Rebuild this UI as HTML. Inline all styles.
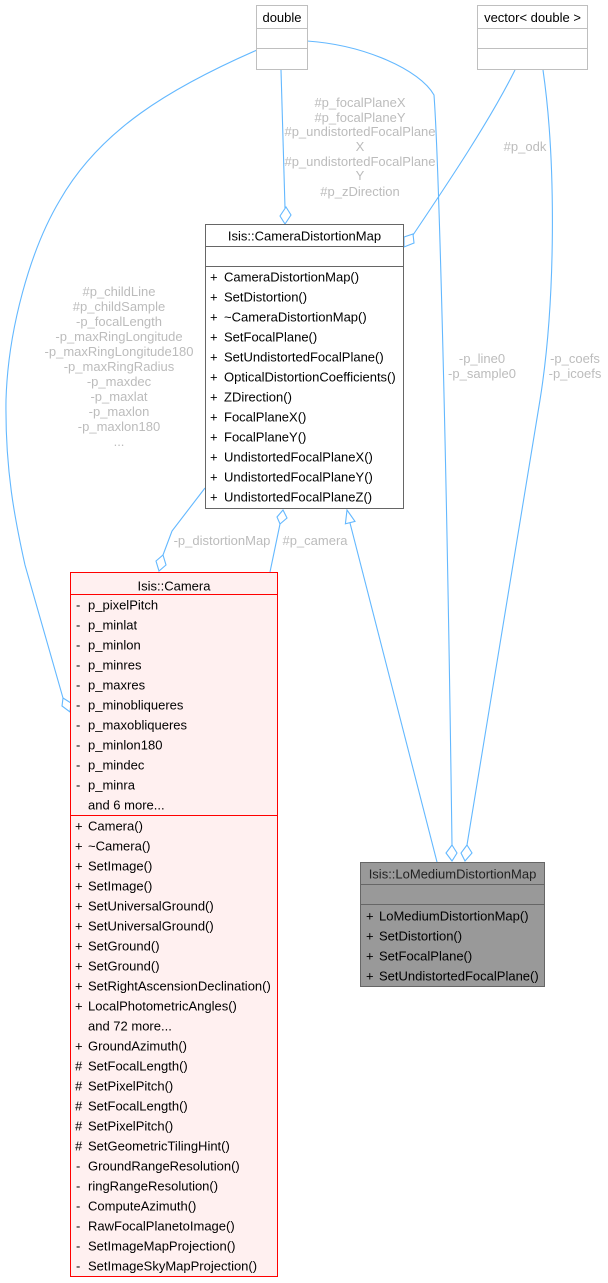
<!DOCTYPE html>
<html><head><meta charset="utf-8"><style>
html,body{margin:0;padding:0;background:#fff;}
svg{display:block;}
text{font-family:"Liberation Sans",Helvetica,Arial,sans-serif;font-size:13px;}
.t{fill:#000;}
.l{fill:#bcbcbc;}
.e{fill:none;stroke:#63b8ff;stroke-width:1.1;}
.d{fill:#fff;stroke:#63b8ff;stroke-width:1.1;}
</style></head><body>
<svg width="608" height="1283" viewBox="0 0 608 1283" xmlns="http://www.w3.org/2000/svg">
<!-- edges -->
<path class="e" d="M257,50 C170,88 100,130 60,200 C30,250 8,330 6,400 C5,470 15,520 25,565 L63,698"/>
<polygon class="d" points="63,698 71,703 70,712 62,706"/>

<path class="e" d="M281,70 L285,208"/>
<polygon class="d" points="286,207 291,215 285,224 280,216"/>

<path class="e" d="M307,41 C365,45 420,70 434,95 C438,150 446,400 452,845"/>
<polygon class="d" points="452,845 457,853 452,861 446,853"/>

<path class="e" d="M515,70 C490,120 450,180 413,235"/>
<polygon class="d" points="404,237 413,234 414,243 404,247"/>

<path class="e" d="M543,70 C556,160 556,300 540,400 C525,500 490,700 467,845"/>
<polygon class="d" points="467,845 472,853 465,861 461,853"/>

<path class="e" d="M205,488 L172,531 L163,555"/>
<polygon class="d" points="163,555 166,565 159,571 156,561"/>

<path class="e" d="M280,524 L270,572"/>
<polygon class="d" points="283,510 287,518 280,524 277,517"/>

<path class="e" d="M437,862 L350,523"/>
<polygon class="d" points="347,510 355,521.4 345.4,523.8"/>

<!-- edge labels -->
<g class="l" text-anchor="middle">
<text x="360" y="107">#p_focalPlaneX</text>
<text x="360" y="122">#p_focalPlaneY</text>
<text x="360" y="136">#p_undistortedFocalPlane</text>
<text x="360" y="151">X</text>
<text x="360" y="166">#p_undistortedFocalPlane</text>
<text x="360" y="180">Y</text>
<text x="360" y="196">#p_zDirection</text>

<text x="525" y="151">#p_odk</text>

<text x="119" y="296">#p_childLine</text>
<text x="119" y="311">#p_childSample</text>
<text x="119" y="326">-p_focalLength</text>
<text x="119" y="341">-p_maxRingLongitude</text>
<text x="119" y="356">-p_maxRingLongitude180</text>
<text x="119" y="371">-p_maxRingRadius</text>
<text x="119" y="386">-p_maxdec</text>
<text x="119" y="401">-p_maxlat</text>
<text x="119" y="416">-p_maxlon</text>
<text x="119" y="431">-p_maxlon180</text>
<text x="119" y="446">...</text>

<text x="222" y="545">-p_distortionMap</text>
<text x="315" y="545">#p_camera</text>

<text x="482" y="363">-p_line0</text>
<text x="482" y="378">-p_sample0</text>
<text x="575" y="363">-p_coefs</text>
<text x="575" y="378">-p_icoefs</text>
</g>

<!-- double -->
<rect x="256.5" y="5.5" width="51" height="64" fill="#fff" stroke="#bfbfbf"/>
<line x1="256.5" y1="28.5" x2="307.5" y2="28.5" stroke="#bfbfbf"/>
<line x1="256.5" y1="48.5" x2="307.5" y2="48.5" stroke="#bfbfbf"/>
<text class="t" x="282" y="22" text-anchor="middle">double</text>

<!-- vector -->
<rect x="477.5" y="5.5" width="110" height="64" fill="#fff" stroke="#bfbfbf"/>
<line x1="477.5" y1="28.5" x2="587.5" y2="28.5" stroke="#bfbfbf"/>
<line x1="477.5" y1="48.5" x2="587.5" y2="48.5" stroke="#bfbfbf"/>
<text class="t" x="532.5" y="22" text-anchor="middle">vector&lt; double &gt;</text>

<!-- CameraDistortionMap -->
<rect x="205.5" y="224.5" width="198" height="284" fill="#fff" stroke="#666"/>
<line x1="205.5" y1="246.5" x2="403.5" y2="246.5" stroke="#666"/>
<line x1="205.5" y1="266.5" x2="403.5" y2="266.5" stroke="#666"/>
<text class="t" x="304.5" y="240.5" text-anchor="middle">Isis::CameraDistortionMap</text>
<g class="t">
<text x="210" y="281.5">+</text><text x="224" y="281.5">CameraDistortionMap()</text>
<text x="210" y="301.5">+</text><text x="224" y="301.5">SetDistortion()</text>
<text x="210" y="321.5">+</text><text x="224" y="321.5">~CameraDistortionMap()</text>
<text x="210" y="341.5">+</text><text x="224" y="341.5">SetFocalPlane()</text>
<text x="210" y="361.5">+</text><text x="224" y="361.5">SetUndistortedFocalPlane()</text>
<text x="210" y="381.5">+</text><text x="224" y="381.5">OpticalDistortionCoefficients()</text>
<text x="210" y="401.5">+</text><text x="224" y="401.5">ZDirection()</text>
<text x="210" y="421.5">+</text><text x="224" y="421.5">FocalPlaneX()</text>
<text x="210" y="441.5">+</text><text x="224" y="441.5">FocalPlaneY()</text>
<text x="210" y="461.5">+</text><text x="224" y="461.5">UndistortedFocalPlaneX()</text>
<text x="210" y="481.5">+</text><text x="224" y="481.5">UndistortedFocalPlaneY()</text>
<text x="210" y="501.5">+</text><text x="224" y="501.5">UndistortedFocalPlaneZ()</text>
</g>

<!-- Camera -->
<rect x="70.5" y="572.5" width="207" height="704" fill="#fff0f0" stroke="#ff0000"/>
<line x1="70.5" y1="594.5" x2="277.5" y2="594.5" stroke="#ff0000"/>
<line x1="70.5" y1="815.5" x2="277.5" y2="815.5" stroke="#ff0000"/>
<text class="t" x="174" y="590.5" text-anchor="middle">Isis::Camera</text>
<g class="t">
<text x="76" y="609.5">-</text><text x="88" y="609.5">p_pixelPitch</text>
<text x="76" y="629.5">-</text><text x="88" y="629.5">p_minlat</text>
<text x="76" y="649.5">-</text><text x="88" y="649.5">p_minlon</text>
<text x="76" y="669.5">-</text><text x="88" y="669.5">p_minres</text>
<text x="76" y="689.5">-</text><text x="88" y="689.5">p_maxres</text>
<text x="76" y="709.5">-</text><text x="88" y="709.5">p_minobliqueres</text>
<text x="76" y="729.5">-</text><text x="88" y="729.5">p_maxobliqueres</text>
<text x="76" y="749.5">-</text><text x="88" y="749.5">p_minlon180</text>
<text x="76" y="769.5">-</text><text x="88" y="769.5">p_mindec</text>
<text x="76" y="789.5">-</text><text x="88" y="789.5">p_minra</text>
<text x="88" y="809.5">and 6 more...</text>

<text x="75" y="830.5">+</text><text x="88" y="830.5">Camera()</text>
<text x="75" y="850.5">+</text><text x="88" y="850.5">~Camera()</text>
<text x="75" y="870.5">+</text><text x="88" y="870.5">SetImage()</text>
<text x="75" y="890.5">+</text><text x="88" y="890.5">SetImage()</text>
<text x="75" y="910.5">+</text><text x="88" y="910.5">SetUniversalGround()</text>
<text x="75" y="930.5">+</text><text x="88" y="930.5">SetUniversalGround()</text>
<text x="75" y="950.5">+</text><text x="88" y="950.5">SetGround()</text>
<text x="75" y="970.5">+</text><text x="88" y="970.5">SetGround()</text>
<text x="75" y="990.5">+</text><text x="88" y="990.5">SetRightAscensionDeclination()</text>
<text x="75" y="1010.5">+</text><text x="88" y="1010.5">LocalPhotometricAngles()</text>
<text x="88" y="1030.5">and 72 more...</text>
<text x="75" y="1050.5">+</text><text x="88" y="1050.5">GroundAzimuth()</text>
<text x="75" y="1070.5">#</text><text x="88" y="1070.5">SetFocalLength()</text>
<text x="75" y="1090.5">#</text><text x="88" y="1090.5">SetPixelPitch()</text>
<text x="75" y="1110.5">#</text><text x="88" y="1110.5">SetFocalLength()</text>
<text x="75" y="1130.5">#</text><text x="88" y="1130.5">SetPixelPitch()</text>
<text x="75" y="1150.5">#</text><text x="88" y="1150.5">SetGeometricTilingHint()</text>
<text x="76" y="1170.5">-</text><text x="88" y="1170.5">GroundRangeResolution()</text>
<text x="76" y="1190.5">-</text><text x="88" y="1190.5">ringRangeResolution()</text>
<text x="76" y="1210.5">-</text><text x="88" y="1210.5">ComputeAzimuth()</text>
<text x="76" y="1230.5">-</text><text x="88" y="1230.5">RawFocalPlanetoImage()</text>
<text x="76" y="1250.5">-</text><text x="88" y="1250.5">SetImageMapProjection()</text>
<text x="76" y="1270.5">-</text><text x="88" y="1270.5">SetImageSkyMapProjection()</text>
</g>

<!-- LoMediumDistortionMap -->
<rect x="360.5" y="862.5" width="184" height="124" fill="#999999" stroke="#666"/>
<line x1="360.5" y1="884.5" x2="544.5" y2="884.5" stroke="#666"/>
<line x1="360.5" y1="904.5" x2="544.5" y2="904.5" stroke="#666"/>
<text x="452.5" y="878.5" text-anchor="middle" fill="#222">Isis::LoMediumDistortionMap</text>
<g class="t">
<text x="366" y="920.5">+</text><text x="379" y="920.5">LoMediumDistortionMap()</text>
<text x="366" y="940.5">+</text><text x="379" y="940.5">SetDistortion()</text>
<text x="366" y="960.5">+</text><text x="379" y="960.5">SetFocalPlane()</text>
<text x="366" y="980.5">+</text><text x="379" y="980.5">SetUndistortedFocalPlane()</text>
</g>
</svg>
</body></html>
